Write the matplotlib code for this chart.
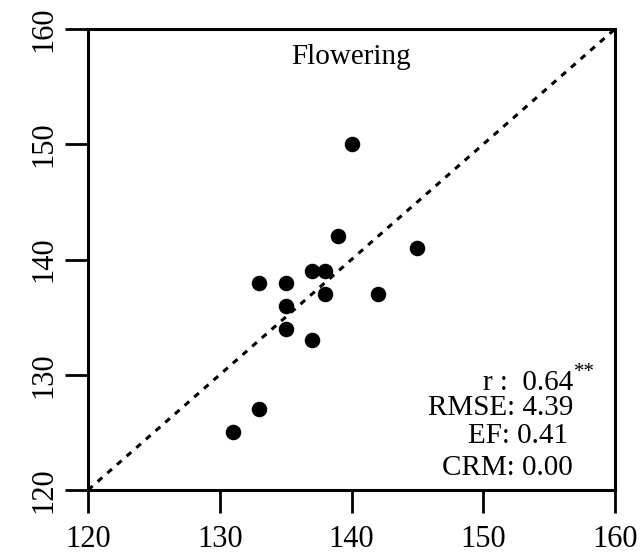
import matplotlib
matplotlib.use("Agg")
import matplotlib.pyplot as plt

# observed vs simulated days to flowering
observed  = [140, 139, 145, 137, 138, 133, 135, 138, 142, 135, 135, 137, 133, 131]
simulated = [150, 142, 141, 139, 139, 138, 138, 137, 137, 136, 134, 133, 127, 125]

stat_labels = ["r :  0.64", "RMSE: 4.39", "EF: 0.41", "CRM: 0.00"]
ticks = [120, 130, 140, 150, 160]

plt.rcParams["font.family"] = ["Liberation Serif", "DejaVu Serif"]

fig = plt.figure(figsize=(6.41, 5.56), dpi=100, facecolor="white")
ax = fig.add_axes([88 / 641, 66 / 556, 527 / 641, 461 / 556])

ax.plot([120, 160], [120, 160], color="black", lw=2.2,
        linestyle=(0, (2.0, 2.2)), zorder=2)
ax.scatter(observed, simulated, s=125, color="black", zorder=3, linewidths=0)

ax.set_xlim(120, 160)
ax.set_ylim(120, 160)
ax.set_xticks(ticks)
ax.set_yticks(ticks)
ax.tick_params(axis="both", direction="out", length=16.5, width=2,
               labelsize=22, color="black")
ax.tick_params(axis="x", pad=9)
ax.tick_params(axis="y", pad=5)
for lab in ax.get_yticklabels():
    lab.set_rotation(90)
    lab.set_va("center")
for sp in ax.spines.values():
    sp.set_linewidth(2.2)

ax.text(140, 157.0, "Flowering", ha="center", va="baseline", fontsize=21)

# statistics block, right aligned
ys = [128.68, 126.51, 124.08, 121.30]
xs = [156.8, 156.85, 156.45, 156.8]
for x, y, s in zip(xs, ys, stat_labels):
    ax.text(x, y, s, ha="right", va="baseline", fontsize=21)
ax.text(156.9, 129.4, "**", ha="left", va="bottom", fontsize=15)

fig.savefig("out.png", dpi=100, facecolor="white")
